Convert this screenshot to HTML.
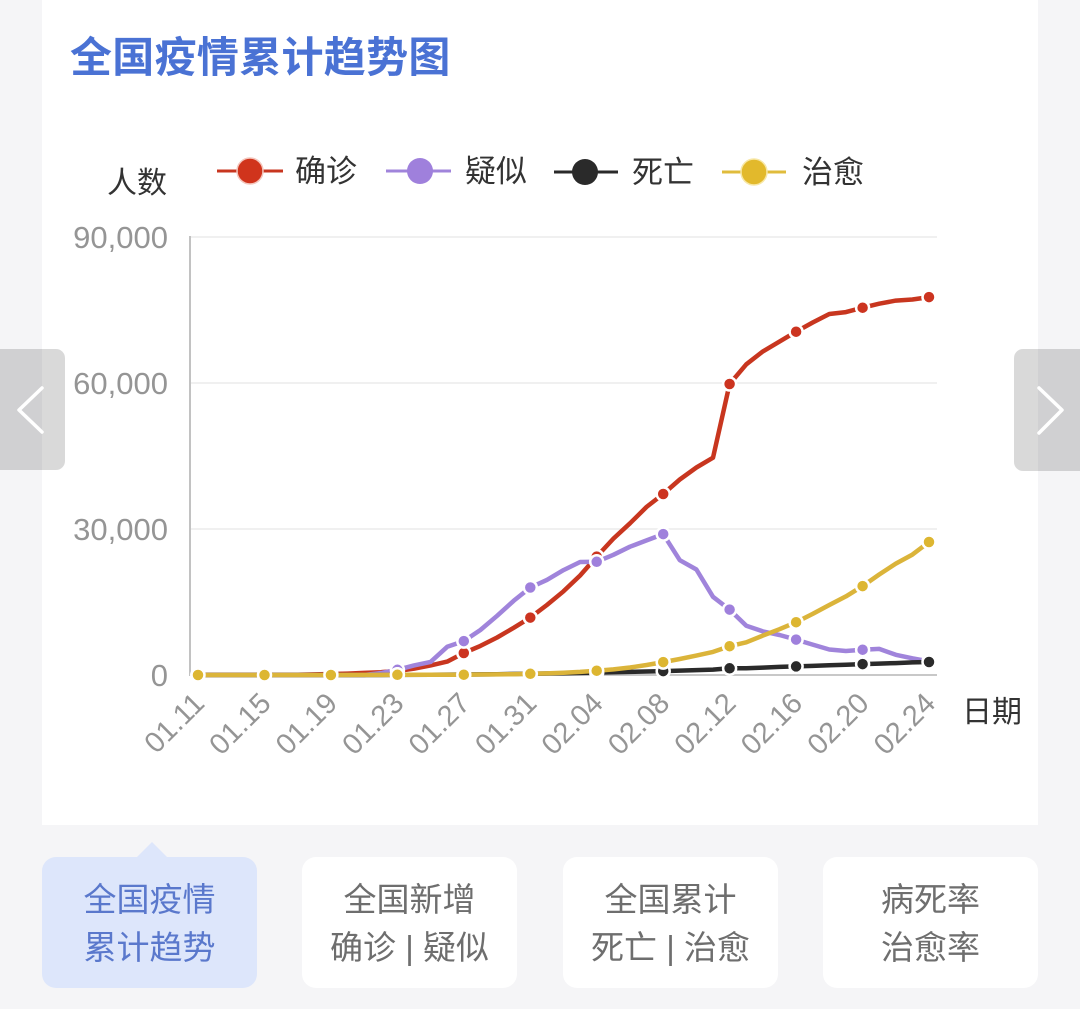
<!DOCTYPE html>
<html><head><meta charset="utf-8"><style>
html,body{margin:0;padding:0;background:#f5f5f7;}
body{width:1080px;height:1009px;overflow:hidden;}
svg{display:block;}
text{font-family:"Liberation Sans","Noto Sans CJK SC",sans-serif;}
</style></head><body>
<svg width="1080" height="1009" viewBox="0 0 1080 1009" xmlns="http://www.w3.org/2000/svg">
<rect x="0" y="0" width="1080" height="1009" fill="#f5f5f7"/>
<rect x="42" y="0" width="996" height="825" fill="#ffffff"/>

<!-- title -->
<text x="70" y="72" font-size="42" font-weight="bold" fill="#4a72d4" letter-spacing="0.3">全国疫情累计趋势图</text>

<!-- legend -->
<text x="107" y="193" font-size="30" fill="#333">人数</text>
<line x1="217" y1="171" x2="283" y2="171" stroke="#c8361f" stroke-width="3"/>
<circle cx="250" cy="171" r="13" fill="#d0341c" stroke="#f4c6bd" stroke-width="1.5"/>
<text x="295" y="182" font-size="31" fill="#333">确诊</text>
<line x1="386" y1="171" x2="451" y2="171" stroke="#a084db" stroke-width="3"/>
<circle cx="420" cy="171" r="13" fill="#9f80dc"/>
<text x="465" y="182" font-size="31" fill="#333">疑似</text>
<line x1="554" y1="172" x2="618" y2="172" stroke="#2a2a2a" stroke-width="3"/>
<circle cx="585" cy="172" r="13" fill="#2a2a2a"/>
<text x="632" y="183" font-size="31" fill="#333">死亡</text>
<line x1="722" y1="172" x2="786" y2="172" stroke="#e0bc3c" stroke-width="3"/>
<circle cx="754" cy="172" r="13" fill="#e2b92c" stroke="#f7e7a6" stroke-width="1.5"/>
<text x="802" y="183" font-size="31" fill="#333">治愈</text>

<!-- grid -->
<g stroke="#ececec" stroke-width="1.5">
<line x1="190" y1="237" x2="937" y2="237"/>
<line x1="190" y1="383" x2="937" y2="383"/>
<line x1="190" y1="529" x2="937" y2="529"/>
</g>
<line x1="190" y1="675" x2="937" y2="675" stroke="#c8c8c8" stroke-width="2"/>
<line x1="190" y1="236" x2="190" y2="676" stroke="#c2c2c2" stroke-width="2"/>

<!-- y labels -->
<g font-size="31" fill="#959595" text-anchor="end">
<text x="168" y="248">90,000</text>
<text x="168" y="394">60,000</text>
<text x="168" y="540">30,000</text>
<text x="168" y="686">0</text>
</g>

<!-- x labels -->
<g font-size="29" fill="#959595" text-anchor="end">
<text x="206" y="705" transform="rotate(-45 206 705)">01.11</text>
<text x="272.5" y="705" transform="rotate(-45 272.5 705)">01.15</text>
<text x="338.9" y="705" transform="rotate(-45 338.9 705)">01.19</text>
<text x="405.4" y="705" transform="rotate(-45 405.4 705)">01.23</text>
<text x="471.8" y="705" transform="rotate(-45 471.8 705)">01.27</text>
<text x="538.3" y="705" transform="rotate(-45 538.3 705)">01.31</text>
<text x="604.7" y="705" transform="rotate(-45 604.7 705)">02.04</text>
<text x="671.2" y="705" transform="rotate(-45 671.2 705)">02.08</text>
<text x="737.6" y="705" transform="rotate(-45 737.6 705)">02.12</text>
<text x="804.1" y="705" transform="rotate(-45 804.1 705)">02.16</text>
<text x="870.6" y="705" transform="rotate(-45 870.6 705)">02.20</text>
<text x="937" y="705" transform="rotate(-45 937 705)">02.24</text>
</g>
<text x="962" y="722" font-size="30" fill="#333">日期</text>

<!-- series -->
<g fill="none" stroke-width="4.5" stroke-linejoin="round" stroke-linecap="round">
<polyline stroke="#c8361f" points="198,674.8 281.1,674.8 297.7,674.7 314.3,674.4 330.9,674 347.5,673.6 364.1,672.9 380.8,672.2 397.4,671 414,668.7 430.6,665.4 447.2,661.6 463.8,653 480.4,645.9 497.1,637.5 513.7,627.8 530.3,617.6 546.9,605 563.5,591.3 580.1,575.5 596.7,556.6 613.4,538.6 630,523.3 646.6,506.9 663.2,494 679.8,479.5 696.4,467.5 713,457.7 729.6,384 746.3,364.3 762.9,351.4 779.5,341.6 796.1,331.7 812.7,322.5 829.3,314 845.9,312.1 862.6,307.7 879.2,303.7 895.8,300.6 912.4,299.5 929,297.1"/>
</g>
<g fill="#cc3420" stroke="#fff" stroke-width="2.5">
<circle cx="198" cy="674.8" r="6.5"/><circle cx="264.5" cy="674.8" r="6.5"/><circle cx="330.9" cy="674" r="6.5"/><circle cx="397.4" cy="671" r="6.5"/><circle cx="463.8" cy="653" r="6.5"/><circle cx="530.3" cy="617.6" r="6.5"/><circle cx="596.7" cy="556.6" r="6.5"/><circle cx="663.2" cy="494" r="6.5"/><circle cx="729.6" cy="384" r="6.5"/><circle cx="796.1" cy="331.7" r="6.5"/><circle cx="862.6" cy="307.7" r="6.5"/><circle cx="929" cy="297.1" r="6.5"/>
</g>

<g fill="none" stroke-width="4.5" stroke-linejoin="round" stroke-linecap="round">
<polyline stroke="#a084db" points="198,675 364.1,675 380.8,673.1 397.4,669.8 414,665.4 430.6,661.9 447.2,646.8 463.8,641.1 480.4,630 497.1,615.8 513.7,600.8 530.3,587.5 546.9,579.9 563.5,570.1 580.1,562 596.7,561.8 613.4,554.8 630,546.7 646.6,540.4 663.2,534.1 679.8,560.2 696.4,569.5 713,596.8 729.6,609.6 746.3,625.8 762.9,631.4 779.5,635 796.1,639.6 812.7,644.6 829.3,649.5 845.9,651 862.6,649.7 879.2,648.9 895.8,654.8 912.4,658.3 929,661.3"/>
</g>
<g fill="#9f80dc" stroke="#fff" stroke-width="2.5">
<circle cx="198" cy="675" r="6.5"/><circle cx="264.5" cy="675" r="6.5"/><circle cx="330.9" cy="675" r="6.5"/><circle cx="397.4" cy="669.8" r="6.5"/><circle cx="463.8" cy="641.1" r="6.5"/><circle cx="530.3" cy="587.5" r="6.5"/><circle cx="596.7" cy="561.8" r="6.5"/><circle cx="663.2" cy="534.1" r="6.5"/><circle cx="729.6" cy="609.6" r="6.5"/><circle cx="796.1" cy="639.6" r="6.5"/><circle cx="862.6" cy="649.7" r="6.5"/><circle cx="929" cy="661.3" r="6.5"/>
</g>

<g fill="none" stroke-width="4.5" stroke-linejoin="round" stroke-linecap="round">
<polyline stroke="#2a2a2a" points="198,675 364.1,675 397.4,674.9 430.6,674.7 463.8,674.5 497.1,674.2 530.3,673.7 563.5,673.2 596.7,672.6 630,671.9 663.2,671.1 696.4,670.1 713,669.6 729.6,668.3 746.3,668.3 762.9,667.6 779.5,666.9 796.1,666.4 812.7,665.9 829.3,665.2 845.9,664.7 862.6,664.1 879.2,663.6 895.8,663.1 912.4,662.4 929,662"/>
</g>
<g fill="#2a2a2a" stroke="#fff" stroke-width="2.5">
<circle cx="198" cy="675" r="6.5"/><circle cx="264.5" cy="675" r="6.5"/><circle cx="330.9" cy="675" r="6.5"/><circle cx="397.4" cy="674.9" r="6.5"/><circle cx="463.8" cy="674.5" r="6.5"/><circle cx="530.3" cy="673.7" r="6.5"/><circle cx="596.7" cy="672.6" r="6.5"/><circle cx="663.2" cy="671.1" r="6.5"/><circle cx="729.6" cy="668.3" r="6.5"/><circle cx="796.1" cy="666.4" r="6.5"/><circle cx="862.6" cy="664.1" r="6.5"/><circle cx="929" cy="662" r="6.5"/>
</g>

<g fill="none" stroke-width="4.5" stroke-linejoin="round" stroke-linecap="round">
<polyline stroke="#dbb43a" points="198,675 330.9,675 364.1,674.9 397.4,674.8 430.6,674.8 463.8,674.7 480.4,674.5 497.1,674.4 513.7,674.2 530.3,673.8 546.9,673.4 563.5,672.7 580.1,671.9 596.7,670.7 613.4,669.4 630,667.5 646.6,665 663.2,662.1 679.8,659 696.4,655.6 713,651.9 729.6,646.2 746.3,642.3 762.9,635.6 779.5,629.2 796.1,622.2 812.7,613.9 829.3,605 845.9,596.4 862.6,586.1 879.2,574.5 895.8,563.6 912.4,554.6 929,542"/>
</g>
<g fill="#ddb631" stroke="#fff" stroke-width="2.5">
<circle cx="198" cy="675" r="6.5"/><circle cx="264.5" cy="675" r="6.5"/><circle cx="330.9" cy="675" r="6.5"/><circle cx="397.4" cy="674.8" r="6.5"/><circle cx="463.8" cy="674.7" r="6.5"/><circle cx="530.3" cy="673.8" r="6.5"/><circle cx="596.7" cy="670.7" r="6.5"/><circle cx="663.2" cy="662.1" r="6.5"/><circle cx="729.6" cy="646.2" r="6.5"/><circle cx="796.1" cy="622.2" r="6.5"/><circle cx="862.6" cy="586.1" r="6.5"/><circle cx="929" cy="542" r="6.5"/>
</g>

<!-- nav buttons -->
<rect x="-10" y="349" width="75" height="121" rx="9" fill="rgba(0,0,0,0.15)"/>
<polyline points="42,388 19,410 42,432" fill="none" stroke="#fff" stroke-width="3.5" stroke-linecap="round" stroke-linejoin="round"/>
<rect x="1014" y="349" width="76" height="122" rx="9" fill="rgba(0,0,0,0.15)"/>
<polyline points="1039,388 1062,410 1039,433" fill="none" stroke="#fff" stroke-width="3.5" stroke-linecap="round" stroke-linejoin="round"/>

<!-- tabs -->
<polygon points="136,858 152,842 168,858" fill="#dde6fb"/>
<rect x="42" y="857" width="215" height="131" rx="14" fill="#dde6fb"/>
<rect x="302" y="857" width="215" height="131" rx="14" fill="#ffffff"/>
<rect x="563" y="857" width="215" height="131" rx="14" fill="#ffffff"/>
<rect x="823" y="857" width="215" height="131" rx="14" fill="#ffffff"/>
<g font-size="33" text-anchor="middle">
<text x="149.5" y="911" fill="#5a78cc">全国疫情</text>
<text x="149.5" y="959" fill="#5a78cc">累计趋势</text>
<text x="409.5" y="911" fill="#6e6e6e">全国新增</text>
<text x="409.5" y="959" fill="#6e6e6e">确诊 | 疑似</text>
<text x="670.5" y="911" fill="#6e6e6e">全国累计</text>
<text x="670.5" y="959" fill="#6e6e6e">死亡 | 治愈</text>
<text x="930.5" y="911" fill="#6e6e6e">病死率</text>
<text x="930.5" y="959" fill="#6e6e6e">治愈率</text>
</g>
</svg>
</body></html>
